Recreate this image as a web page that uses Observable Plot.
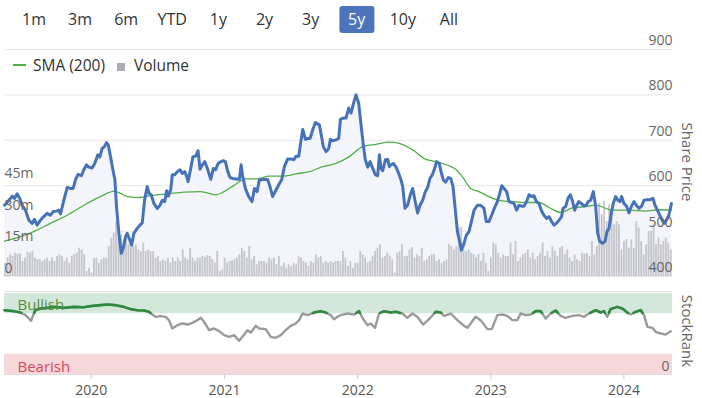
<!DOCTYPE html>
<html><head><meta charset="utf-8">
<script src="https://cdn.jsdelivr.net/npm/d3@7"></script>
<script src="https://cdn.jsdelivr.net/npm/@observablehq/plot@0.6"></script>
<style>
body{margin:0;background:#fff;font-family:"Open Sans",sans-serif;}
#wrap{position:relative;width:702px;height:398px;overflow:hidden;background:#fff;}
.btn{position:absolute;top:6px;height:27px;line-height:27px;font-size:16px;color:#333;text-align:center;transform:translateX(-50%);padding:0 9px;border-radius:3px;}
.btn.sel{background:#4b74ba;color:#fff;}
.abs{position:absolute;}
.vlabel{position:absolute;writing-mode:vertical-rl;font-size:15px;color:#666;transform:translateY(-50%);}
svg{position:absolute;left:0;overflow:visible;}
</style></head><body><div id="wrap"></div><script>
// ---------- data ----------
const rangeButtons = ["1m","3m","6m","YTD","1y","2y","3y","5y","10y","All"];
const selectedRange = "5y";
const priceTicks = [400,500,600,700,800,900];
const volumeTicks = [0,15,30,45];           // millions
const yearTicks = [2020,2021,2022,2023,2024];
const xStart = 2019.349, xEnd = 2024.364;    // decimal years

// share price [decimal year, price]
const price = [
[2019.349,557],[2019.382,568],[2019.407,577],[2019.424,572],[2019.444,582],[2019.464,572],[2019.482,557],[2019.507,546],[2019.532,524],[2019.557,517],
[2019.574,526],[2019.594,513],[2019.619,524],[2019.644,532],[2019.669,539],[2019.694,535],[2019.715,543],[2019.740,544],[2019.757,546],[2019.770,538],
[2019.795,568],[2019.820,596],[2019.845,594],[2019.865,594],[2019.882,613],[2019.902,625],[2019.927,622],[2019.945,635],[2019.965,646],[2019.982,641],
[2020.007,639],[2020.027,649],[2020.050,668],[2020.065,663],[2020.082,682],[2020.100,686],[2020.115,695],[2020.128,690],[2020.145,664],[2020.163,635],
[2020.178,613],[2020.190,554],[2020.208,495],[2020.225,451],[2020.240,462],[2020.258,488],[2020.270,495],[2020.288,482],[2020.303,469],[2020.320,495],
[2020.345,506],[2020.365,513],[2020.383,518],[2020.400,568],[2020.420,598],[2020.435,583],[2020.450,580],[2020.470,561],[2020.495,550],[2020.516,557],
[2020.533,568],[2020.551,565],[2020.566,589],[2020.578,577],[2020.596,591],[2020.608,624],[2020.626,624],[2020.646,631],[2020.666,635],[2020.683,627],
[2020.701,631],[2020.716,620],[2020.726,609],[2020.746,638],[2020.763,664],[2020.783,665],[2020.801,677],[2020.816,636],[2020.833,646],[2020.851,653],
[2020.871,638],[2020.896,614],[2020.916,638],[2020.933,635],[2020.951,649],[2020.971,653],[2020.991,655],[2021.006,653],[2021.024,631],[2021.041,618],
[2021.061,616],[2021.086,615],[2021.111,614],[2021.124,646],[2021.136,620],[2021.156,594],[2021.181,576],[2021.206,565],[2021.224,594],[2021.244,587],
[2021.261,613],[2021.281,613],[2021.306,614],[2021.324,613],[2021.341,598],[2021.361,576],[2021.387,591],[2021.412,605],[2021.429,613],[2021.449,642],
[2021.474,659],[2021.499,659],[2021.519,657],[2021.537,665],[2021.557,665],[2021.569,690],[2021.587,724],[2021.607,702],[2021.624,704],[2021.642,704],
[2021.662,723],[2021.682,739],[2021.712,734],[2021.724,715],[2021.742,686],[2021.762,675],[2021.782,682],[2021.795,702],[2021.812,699],[2021.837,701],
[2021.857,704],[2021.870,746],[2021.892,749],[2021.912,749],[2021.932,771],[2021.950,760],[2021.970,783],[2021.987,800],[2022.007,782],[2022.025,734],
[2022.042,690],[2022.057,657],[2022.075,641],[2022.093,653],[2022.113,638],[2022.133,624],[2022.150,622],[2022.163,668],[2022.175,638],[2022.188,633],
[2022.208,657],[2022.225,658],[2022.238,642],[2022.250,646],[2022.268,649],[2022.288,641],[2022.308,627],[2022.325,613],[2022.338,598],[2022.355,550],
[2022.375,557],[2022.395,580],[2022.413,594],[2022.430,568],[2022.450,540],[2022.468,557],[2022.488,568],[2022.508,587],[2022.525,596],[2022.543,616],
[2022.563,626],[2022.581,641],[2022.593,653],[2022.613,649],[2022.626,631],[2022.643,613],[2022.661,608],[2022.681,618],[2022.699,616],[2022.716,598],
[2022.731,554],[2022.749,499],[2022.766,477],[2022.779,458],[2022.799,473],[2022.816,491],[2022.836,499],[2022.854,521],[2022.874,546],[2022.899,557],
[2022.924,557],[2022.949,550],[2022.966,521],[2022.986,521],[2023.006,535],[2023.026,550],[2023.049,565],[2023.067,583],[2023.082,600],[2023.099,594],
[2023.119,587],[2023.137,565],[2023.157,563],[2023.174,561],[2023.194,546],[2023.212,557],[2023.232,555],[2023.249,555],[2023.269,565],[2023.287,580],
[2023.307,576],[2023.324,578],[2023.342,565],[2023.362,561],[2023.379,546],[2023.399,535],[2023.420,528],[2023.437,532],[2023.457,521],[2023.475,513],
[2023.492,517],[2023.512,524],[2023.532,532],[2023.542,550],[2023.562,554],[2023.580,572],[2023.597,580],[2023.612,568],[2023.630,546],[2023.645,557],
[2023.662,565],[2023.680,561],[2023.700,555],[2023.717,557],[2023.732,565],[2023.750,568],[2023.770,587],[2023.788,554],[2023.803,495],[2023.818,478],
[2023.838,473],[2023.858,477],[2023.873,499],[2023.888,506],[2023.905,539],[2023.920,561],[2023.938,576],[2023.955,568],[2023.970,565],[2023.983,576],
[2024.000,561],[2024.020,555],[2024.038,540],[2024.055,554],[2024.075,565],[2024.093,557],[2024.113,550],[2024.133,555],[2024.150,568],[2024.170,569],
[2024.193,569],[2024.218,572],[2024.233,557],[2024.251,546],[2024.268,535],[2024.288,524],[2024.301,517],[2024.318,524],[2024.333,532],[2024.343,543],
[2024.356,561]
];

// SMA (200) [decimal year, value]
const sma200 = [
[2019.349,478],[2019.469,488],[2019.569,499],[2019.694,517],[2019.820,535],[2019.945,557],[2020.070,576],[2020.175,588],[2020.220,583],[2020.270,576],
[2020.370,574],[2020.445,578],[2020.571,582],[2020.696,586],[2020.821,587],[2020.934,580],[2020.990,586],[2021.061,599],[2021.161,615],[2021.236,615],
[2021.336,621],[2021.437,621],[2021.537,626],[2021.637,631],[2021.737,642],[2021.837,649],[2021.937,664],[2022.037,686],[2022.138,691],[2022.238,696],
[2022.313,693],[2022.413,679],[2022.513,658],[2022.588,653],[2022.676,645],[2022.736,636],[2022.786,620],[2022.849,594],[2022.911,587],[2022.986,576],
[2023.074,567],[2023.162,565],[2023.262,563],[2023.362,563],[2023.437,552],[2023.525,541],[2023.612,551],[2023.712,554],[2023.788,557],[2023.913,546],
[2024.038,546],[2024.163,544],[2024.263,547],[2024.356,546]
];

// weekly volume, millions of shares
const volume = [
6.3,8.7,10.3,9.5,11.0,10.6,10.6,7.1,8.7,11.5,11.0,11.8,8.7,7.9,7.9,7.1,7.9,8.7,7.1,8.7,7.1,9.5,10.3,9.5,7.1,8.7,6.3,9.5,10.3,11.0,
13.4,12.6,10.3,2.4,3.9,1.6,8.7,8.7,6.3,7.9,8.7,8.7,14.2,18.1,20.5,26.0,18.1,19.7,17.4,20.0,15.0,13.7,14.2,15.0,12.6,11.8,15.8,11.8,12.6,11.8,
11.8,8.7,9.5,7.1,7.9,7.1,8.7,6.3,8.7,7.1,8.7,7.1,12.6,8.7,7.9,13.4,8.7,7.1,8.7,8.7,9.5,9.0,9.9,9.5,7.9,6.3,11.8,2.4,3.2,
8.7,6.3,7.1,7.4,7.9,8.7,10.3,13.4,11.8,8.7,14.2,7.9,9.5,5.5,7.1,7.1,7.1,6.3,8.7,7.9,8.7,5.5,9.5,4.7,6.3,3.9,5.5,4.7,6.3,5.5,
9.5,8.7,7.1,6.3,4.7,7.1,6.3,10.3,8.7,9.5,6.3,7.1,6.3,7.1,6.3,7.1,7.1,7.1,11.8,8.7,4.7,7.1,3.9,6.3,6.3,11.8,10.3,8.7,6.3,7.1,
9.5,11.8,13.4,15.0,8.7,9.5,11.0,9.5,7.9,1.6,11.0,11.8,15.0,9.5,9.5,12.6,13.7,8.7,10.3,9.5,13.4,7.1,7.9,9.5,10.3,10.3,7.1,7.9,6.3,7.1,
7.9,15.0,14.2,12.6,14.2,22.9,23.2,12.6,11.8,12.6,11.0,10.3,8.7,10.3,7.1,11.0,6.3,2.4,8.7,15.8,15.0,11.0,8.7,10.3,9.5,9.5,15.8,10.3,16.6,7.1,
8.7,10.3,11.0,12.6,8.7,11.0,7.9,9.5,11.0,15.8,9.5,11.8,8.7,14.2,11.8,9.5,13.4,14.2,10.3,12.6,8.7,7.1,10.3,7.9,7.1,11.0,10.6,11.0,9.5,16.6,
10.3,14.2,34.7,29.2,35.5,26.0,33.9,30.8,24.4,26.0,24.4,12.6,16.6,17.4,13.4,17.4,13.4,26.0,22.9,16.6,10.3,15.0,21.3,21.3,24.4,15.0,18.1,15.0,16.6,18.1,
15.8,12.6
];

// StockRank [decimal year, rank 0-100]
const stockRank = [
[2019.349,79.4],[2019.419,78.2],[2019.469,76.5],[2019.507,73.3],[2019.532,69.1],[2019.549,66.3],[2019.564,73.3],[2019.582,79.4],[2019.619,81.5],[2019.669,82.3],
[2019.720,83.5],[2019.795,82.3],[2019.870,83.5],[2019.945,83.1],[2019.995,84.4],[2020.070,85.6],[2020.120,86.4],[2020.183,85.6],[2020.245,83.5],[2020.295,80.7],
[2020.345,79.4],[2020.396,79.0],[2020.433,77.4],[2020.458,74.1],[2020.483,71.2],[2020.521,72.0],[2020.558,71.2],[2020.583,67.1],[2020.608,56.8],[2020.646,60.9],
[2020.683,63.0],[2020.721,61.7],[2020.758,63.8],[2020.796,67.1],[2020.821,70.0],[2020.846,65.0],[2020.884,54.7],[2020.921,56.8],[2020.959,53.5],[2020.996,48.6],
[2021.034,46.5],[2021.071,48.6],[2021.109,41.6],[2021.134,46.5],[2021.172,54.7],[2021.197,51.9],[2021.234,60.1],[2021.259,56.8],[2021.309,56.0],[2021.347,46.5],
[2021.384,45.3],[2021.422,48.6],[2021.459,54.7],[2021.497,60.1],[2021.535,63.0],[2021.560,67.1],[2021.585,75.3],[2021.622,73.3],[2021.672,76.5],[2021.722,78.2],
[2021.760,76.5],[2021.797,73.3],[2021.822,68.3],[2021.847,71.2],[2021.873,73.3],[2021.923,75.3],[2021.973,74.1],[2022.010,78.2],[2022.035,70.0],[2022.073,60.9],
[2022.098,63.0],[2022.130,57.6],[2022.160,75.3],[2022.198,78.2],[2022.248,76.5],[2022.286,77.4],[2022.336,75.3],[2022.373,70.0],[2022.411,75.3],[2022.448,71.2],
[2022.491,61.7],[2022.536,68.3],[2022.586,77.4],[2022.624,76.5],[2022.649,72.4],[2022.699,75.3],[2022.749,67.1],[2022.799,60.1],[2022.824,57.6],[2022.861,65.8],
[2022.886,71.2],[2022.924,67.1],[2022.974,56.0],[2023.007,56.0],[2023.049,73.3],[2023.087,74.1],[2023.124,72.4],[2023.162,67.1],[2023.199,67.1],[2023.224,75.3],
[2023.262,73.3],[2023.300,74.1],[2023.337,78.2],[2023.375,78.2],[2023.412,69.1],[2023.450,75.3],[2023.487,79.0],[2023.525,72.4],[2023.562,70.0],[2023.612,72.4],
[2023.663,73.3],[2023.700,71.2],[2023.738,75.3],[2023.788,79.4],[2023.825,76.5],[2023.850,78.2],[2023.875,71.2],[2023.900,80.7],[2023.950,83.5],[2023.988,81.5],
[2024.025,76.5],[2024.051,74.1],[2024.088,77.4],[2024.126,79.4],[2024.151,73.3],[2024.176,58.8],[2024.213,57.6],[2024.238,52.7],[2024.276,50.6],[2024.313,49.4],
[2024.351,53.5]
];

// ---------- helpers ----------
function yd(t){const y=Math.floor(t);const a=Date.UTC(y,0,1),b=Date.UTC(y+1,0,1);return new Date(a+(t-y)*(b-a));}
const X0 = yd(xStart), X1 = yd(xEnd);
const VK = 500/107.4; // price units per million shares (secondary axis)
const vol2y = v => 400 + v*VK;

const wrap = document.getElementById("wrap");
const FONT = '"Open Sans", sans-serif';

// range buttons
rangeButtons.forEach((b,i)=>{
  const d=document.createElement("div");
  d.className="btn"+(b===selectedRange?" sel":"");
  d.style.left=(34+i*46.1)+"px";
  d.textContent=b;
  wrap.appendChild(d);
});

// main chart
const step = (X1 - X0)/volume.length;
const volBars = volume.map((v,i)=>({x1:new Date(+X0+i*step), x2:new Date(+X0+(i+1)*step), v}));

const mainChart = Plot.plot({
  width:702, height:245,
  marginTop:9, marginBottom:9, marginLeft:4, marginRight:30,
  style:{fontFamily:FONT, background:"transparent", overflow:"visible"},
  x:{type:"utc", domain:[X0,X1], axis:null},
  y:{domain:[400,900], axis:null},
  marks:[
    Plot.gridY(priceTicks,{stroke:"#e6e6e6", strokeOpacity:1}),
    Plot.areaY(price,{x:d=>yd(d[0]), y1:400, y2:d=>d[1], fill:"#f4f5fb", curve:"linear"}),
    Plot.rectY(volBars,{x1:"x1", x2:"x2", y1:400, y2:d=>vol2y(d.v), fill:"#c6c7cc", insetLeft:0.3, insetRight:0.3}),
    Plot.line(sma200,{x:d=>yd(d[0]), y:d=>d[1], stroke:"#4fae45", strokeWidth:1.3, curve:"monotone-x"}),
    Plot.line(price,{x:d=>yd(d[0]), y:d=>d[1], stroke:"#4672b8", strokeWidth:3, strokeLinejoin:"round"}),
    Plot.text(volumeTicks,{y:d=>vol2y(d), frameAnchor:"left", textAnchor:"start", dy:-8, text:d=>d===0?"0":d+"m", fontSize:14, fill:"#666"}),
    Plot.text(priceTicks,{y:d=>d, frameAnchor:"right", textAnchor:"end", dy:-9, text:d=>String(d), fontSize:14, fill:"#666"})
  ]
});
mainChart.style.top="40px";
wrap.appendChild(mainChart);

// legend
const leg=document.createElement("div");
leg.className="abs";
leg.style.cssText="left:13px;top:54px;font-size:15.5px;color:#333;display:flex;align-items:center;white-space:nowrap;";
leg.innerHTML='<span style="display:inline-block;width:13px;height:1.5px;background:#4fae45;margin-right:7px"></span>SMA (200)'+
 '<span style="display:inline-block;width:8px;height:8px;background:#aaacb2;margin:0 9px 0 12px;position:relative;top:2px"></span>Volume';
wrap.appendChild(leg);

// axis titles
const sp=document.createElement("div"); sp.className="vlabel"; sp.style.left="678px"; sp.style.top="162px"; sp.textContent="Share Price"; wrap.appendChild(sp);
const sr=document.createElement("div"); sr.className="vlabel"; sr.style.left="678px"; sr.style.top="331px"; sr.textContent="StockRank"; wrap.appendChild(sr);

// StockRank panel
function aboveSegments(pts, thr){
  const out=[]; let seg=0;
  for(let i=0;i<pts.length;i++){
    const [t,v]=pts[i];
    if(i>0){const [t0,v0]=pts[i-1];
      if((v0>=thr)!==(v>=thr)){const f=(thr-v0)/(v-v0);out.push({t:t0+f*(t-t0),v:thr,seg}); if(v<thr) seg++;}
    }
    if(v>=thr) out.push({t,v,seg});
  }
  return out;
}
const bull = aboveSegments(stockRank, 76);

const panelLine = document.createElement("div");
panelLine.className="abs"; panelLine.style.cssText="left:4px;top:291px;width:668px;height:1px;background:#e3e3e3;";
wrap.appendChild(panelLine);

const rankChart = Plot.plot({
  width:702, height:113,
  marginTop:8, marginBottom:24, marginLeft:4, marginRight:30,
  style:{fontFamily:FONT, background:"transparent", overflow:"visible"},
  x:{type:"utc", domain:[X0,X1], axis:null},
  y:{domain:[0,100], axis:null},
  marks:[
    Plot.rectY([[75,100]],{y1:d=>d[0], y2:d=>d[1], fill:"#d3e8da"}),
    Plot.rectY([[0,25]],{y1:d=>d[0], y2:d=>d[1], fill:"#f6d8db"}),
    Plot.ruleY([0],{stroke:"#dcdcdc"}),
    Plot.line(stockRank,{x:d=>yd(d[0]), y:d=>d[1], stroke:"#9a9a9a", strokeWidth:2.4, strokeLinejoin:"round"}),
    Plot.line(bull,{x:d=>yd(d.t), y:"v", z:"seg", stroke:"#2b8a3e", strokeWidth:2.6, strokeLinejoin:"round"}),
    Plot.text(["Bullish"],{y:85, frameAnchor:"left", textAnchor:"start", dx:13, text:d=>d, fontSize:15, fill:"#5b8c3c"}),
    Plot.text(["Bearish"],{y:9, frameAnchor:"left", textAnchor:"start", dx:13, text:d=>d, fontSize:15, fill:"#d9455a"}),
    Plot.text([0],{y:d=>d, frameAnchor:"right", textAnchor:"end", dx:-3, dy:-8, text:d=>String(d), fontSize:14, fill:"#666"}),
    Plot.axisX(yearTicks.map(y=>new Date(Date.UTC(y,0,1))),{tickSize:5, tickPadding:6, tickFormat:d3.utcFormat("%Y"), fontSize:14, color:"#555", stroke:"#ccd"})
  ]
});
rankChart.style.top="285px";
wrap.appendChild(rankChart);
</script></body></html>
